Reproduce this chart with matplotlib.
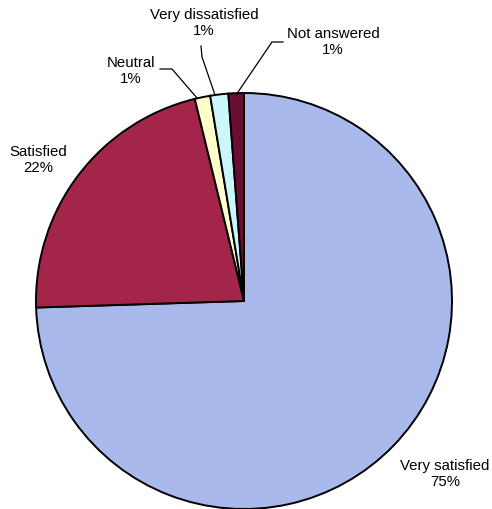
import matplotlib
matplotlib.use("Agg")
import matplotlib.pyplot as plt

# data (wedge sizes) and the printed percentage labels
categories = ["Very satisfied", "Satisfied", "Neutral", "Very dissatisfied", "Not answered"]
shares = [74.5, 21.7, 1.2, 1.4, 1.2]
pct_labels = ["75%", "22%", "1%", "1%", "1%"]
colors = ["#a9b9ec", "#a3264a", "#ffffcc", "#ccf6fa", "#6a0f32"]

W, H = 492, 510
plt.rcParams["font.family"] = ["Liberation Sans", "DejaVu Sans"]

fig = plt.figure(figsize=(W / 100, H / 100), dpi=100)
ax = fig.add_axes([0, 0, 1, 1])

# pixel-like coordinates, y measured from the bottom
cx, cy, r = 244, H - 302, 208
ax.pie(shares, colors=colors, startangle=90, counterclock=False,
       center=(cx, cy), radius=r,
       wedgeprops=dict(edgecolor="black", linewidth=1.4))
ax.set_xlim(0, W)
ax.set_ylim(0, H)
ax.set_aspect("equal")
ax.axis("off")

# label positions (x, y from top) and leader lines
label_pos = {
    "Very satisfied": (445, 474),
    "Satisfied": (38, 160),
    "Neutral": (131, 71),
    "Very dissatisfied": (204, 23),
    "Not answered": (333, 42),
}
leaders = {
    "Neutral": [(160, 70), (172, 70), (197, 99)],
    "Very dissatisfied": [(201, 47), (202, 58), (215, 96)],
    "Not answered": [(283, 43), (272, 43), (236, 96)],
}

for name, pct in zip(categories, pct_labels):
    x, y = label_pos[name]
    ax.text(x, H - y, f"{name}\n{pct}", ha="center", va="center",
            fontsize=10.8, linespacing=1.2, color="black")

for name, pts in leaders.items():
    xs = [p[0] for p in pts]
    ys = [H - p[1] for p in pts]
    ax.plot(xs, ys, color="black", linewidth=0.9)

fig.savefig("out.png", dpi=100, facecolor="white")
